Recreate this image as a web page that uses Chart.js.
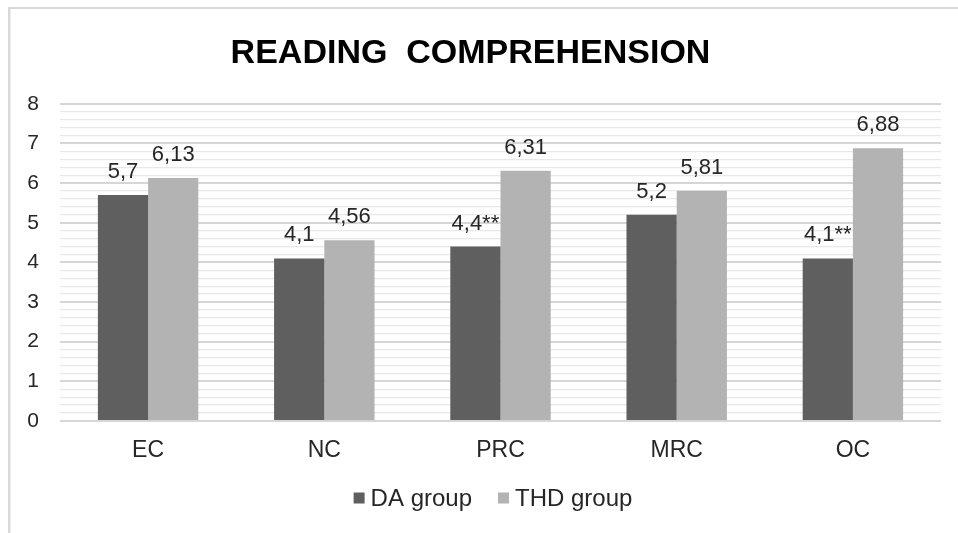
<!DOCTYPE html>
<html>
<head>
<meta charset="utf-8">
<script src="https://cdn.jsdelivr.net/npm/chart.js@4/dist/chart.umd.min.js"></script>
<style>
  html, body { margin: 0; padding: 0; background: #ffffff; }
  #wrap { width: 958px; height: 533px; position: relative; }
</style>
</head>
<body>
<div id="wrap"><canvas id="chart"></canvas></div>
<script>
// Reading comprehension scores per sub-test, two groups
const categories = ['EC', 'NC', 'PRC', 'MRC', 'OC'];
const daGroup = [5.7, 4.1, 4.4, 5.2, 4.1];
const thdGroup = [6.13, 4.56, 6.31, 5.81, 6.88];
// significance markers appended to the value labels
const daMarks = ['', '', '**', '', '**'];
const thdMarks = ['', '', '', '', ''];
const seriesNames = ['DA group', 'THD group'];
const yTickValues = [0, 1, 2, 3, 4, 5, 6, 7, 8];

const FONT = "'Liberation Sans', Arial, sans-serif";
const TEXT = '#262626';

const fmt = v => String(v).replace('.', ',');

// thin frame on the left and top edges of the chart area
const framePlugin = {
  id: 'frame',
  beforeDraw(chart) {
    const ctx = chart.ctx;
    ctx.save();
    ctx.fillStyle = '#ffffff';
    ctx.fillRect(0, 0, chart.width, chart.height);
    ctx.fillStyle = '#d9d9d9';
    ctx.fillRect(8, 7, 2.5, chart.height - 7);
    ctx.fillRect(8, 7, chart.width - 8, 2);
    ctx.restore();
  }
};

// value labels above each bar
const valueLabels = {
  id: 'valueLabels',
  afterDatasetsDraw(chart) {
    const ctx = chart.ctx;
    const marks = [daMarks, thdMarks];
    ctx.save();
    ctx.font = '22px ' + FONT;
    ctx.fillStyle = TEXT;
    ctx.textAlign = 'center';
    ctx.textBaseline = 'alphabetic';
    chart.data.datasets.forEach((ds, di) => {
      const meta = chart.getDatasetMeta(di);
      meta.data.forEach((bar, i) => {
        const txt = fmt(ds.data[i]) + marks[di][i];
        ctx.fillText(txt, bar.x, bar.y - 17);
      });
    });
    ctx.restore();
  }
};

// compact legend below the axis: small square, tight gap, text
const compactLegend = {
  id: 'compactLegend',
  afterDraw(chart) {
    const ctx = chart.ctx;
    const box = 11, gap = 6, itemGap = 26, centerX = 493, centerY = 498;
    ctx.save();
    ctx.font = '24px ' + FONT;
    const items = chart.data.datasets.map(ds => ({
      text: ds.label, color: ds.backgroundColor, w: ctx.measureText(ds.label).width
    }));
    const total = items.reduce((s, it) => s + box + gap + it.w, 0) + itemGap * (items.length - 1);
    let x = centerX - total / 2;
    ctx.textBaseline = 'middle';
    ctx.textAlign = 'left';
    items.forEach(it => {
      ctx.fillStyle = it.color;
      ctx.fillRect(x, centerY - box / 2, box, box);
      x += box + gap;
      ctx.fillStyle = TEXT;
      ctx.fillText(it.text, x, centerY + 1);
      x += it.w + itemGap;
    });
    ctx.restore();
  }
};

new Chart(document.getElementById('chart'), {
  type: 'bar',
  data: {
    labels: categories,
    datasets: [
      { label: seriesNames[0], data: daGroup, backgroundColor: '#5f5f5f',
        categoryPercentage: 0.57, barPercentage: 1.0 },
      { label: seriesNames[1], data: thdGroup, backgroundColor: '#b3b3b3',
        categoryPercentage: 0.57, barPercentage: 1.0 }
    ]
  },
  options: {
    responsive: true,
    maintainAspectRatio: false,
    animation: false,
    layout: { padding: { left: 0, right: 17, top: 0, bottom: 58 } },
    plugins: {
      title: {
        display: true,
        text: 'READING  COMPREHENSION',
        color: '#000000',
        font: { family: FONT, size: 34, weight: 'bold' },
        padding: { top: 33, bottom: 30 }
      },
      legend: { display: false },
      tooltip: { enabled: false }
    },
    scales: {
      x: {
        grid: { display: false },
        border: { display: false },
        ticks: { color: TEXT, font: { family: FONT, size: 23 }, padding: 8 },
        afterFit(scale) { scale.height = 54; }
      },
      y: {
        min: 0,
        max: 8,
        border: { display: false },
        grid: {
          drawTicks: false,
          color: ctx => {
            const v = ctx.tick ? ctx.tick.value : 0;
            return yTickValues.some(t => Math.abs(t - v) < 1e-6) ? '#d6d6d6' : '#e8e8e8';
          },
          lineWidth: ctx => {
            const v = ctx.tick ? ctx.tick.value : 0;
            return yTickValues.some(t => Math.abs(t - v) < 1e-6) ? 2 : 1.3;
          }
        },
        ticks: {
          stepSize: 0.2,
          maxTicksLimit: 100,
          autoSkip: false,
          color: TEXT,
          font: { family: FONT, size: 21 },
          padding: 21,
          callback: v => {
            const t = yTickValues.find(t => Math.abs(t - v) < 1e-6);
            return t === undefined ? '' : String(t);
          }
        },
        afterFit(scale) { scale.width = 60; }
      }
    }
  },
  plugins: [framePlugin, valueLabels, compactLegend]
});
</script>
</body>
</html>
